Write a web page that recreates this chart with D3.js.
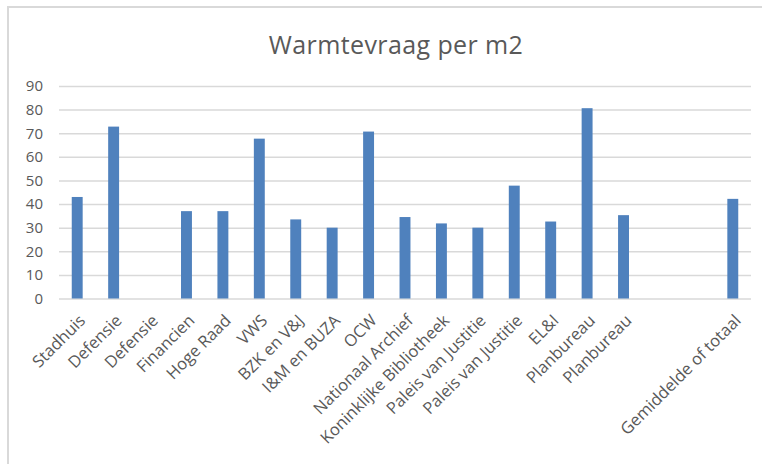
<!DOCTYPE html>
<html>
<head>
<meta charset="utf-8">
<script src="https://cdn.jsdelivr.net/npm/d3@7"></script>
<style>
  html, body { margin: 0; padding: 0; background: #fff; }
  svg { display: block; }
</style>
</head>
<body>
<svg id="chart" width="762" height="464"></svg>
<script>
const title = "Warmtevraag per m2";
const categories = [
  "Stadhuis", "Defensie", "Defensie ", "Financien", "Hoge Raad", "VWS",
  "BZK en V&J", "I&M en BUZA", "OCW", "Nationaal Archief",
  "Koninklijke Bibliotheek", "Paleis van Justitie", "Paleis van Justitie ",
  "EL&I", "Planbureau", "Planbureau ", "  ", "   ", "Gemiddelde of totaal"
];
const values = [43.0, 72.8, null, 37.0, 37.0, 67.7, 33.5, 30.0, 70.7, 34.5,
  31.8, 30.0, 47.8, 32.6, 80.6, 35.3, null, null, 42.2];
const yTicks = [0, 10, 20, 30, 40, 50, 60, 70, 80, 90];

const svg = d3.select("#chart");
const W = 762, H = 464;
const m = { left: 59, right: 11, top: 86, bottom: 165.5 };

// frame (top + left edges visible)
svg.append("rect").attr("x", 8).attr("y", 7).attr("width", 800).attr("height", 500)
  .attr("fill", "none").attr("stroke", "#d9d9d9").attr("stroke-width", 2);

const x = d3.scaleBand().domain(categories).range([m.left, W - m.right]).paddingInner(0.7).paddingOuter(0.35);
const y = d3.scaleLinear().domain([0, 90]).range([H - m.bottom, m.top]);

const font = "'Open Sans', sans-serif";

svg.append("text").attr("x", 396).attr("y", 54).attr("text-anchor", "middle")
  .attr("font-family", font).attr("font-size", 25).attr("letter-spacing", 0.4)
  .attr("fill", "#595959").text(title);

// gridlines
const yAxis = d3.axisLeft(y).tickValues(yTicks).tickSize(-(W - m.left - m.right)).tickPadding(16);
const gy = svg.append("g").attr("transform", `translate(${m.left},0)`).call(yAxis);
gy.select(".domain").remove();
gy.selectAll(".tick line").attr("stroke", "#d9d9d9").attr("stroke-width", 1.5);
gy.selectAll(".tick text").attr("font-family", font).attr("font-size", 15).attr("fill", "#595959");

// bars
svg.append("g").selectAll("rect").data(categories.map((c, i) => ({ c, v: values[i] })).filter(d => d.v != null))
  .join("rect")
  .attr("x", d => x(d.c)).attr("width", x.bandwidth())
  .attr("y", d => y(d.v)).attr("height", d => y(0) - y(d.v))
  .attr("fill", "#4f81bd");

// x axis
const xAxis = d3.axisBottom(x).tickSize(0).tickPadding(0);
const gx = svg.append("g").attr("transform", `translate(0,${y(0)})`).call(xAxis);
gx.select(".domain").remove();
gx.selectAll(".tick text")
  .attr("font-family", font).attr("font-size", 16.5).attr("fill", "#595959")
  .attr("text-anchor", "end")
  .attr("transform", "translate(5,19) rotate(-45)")
  .attr("dy", "0.35em").attr("y", 0).attr("x", 0);
</script>
</body>
</html>
